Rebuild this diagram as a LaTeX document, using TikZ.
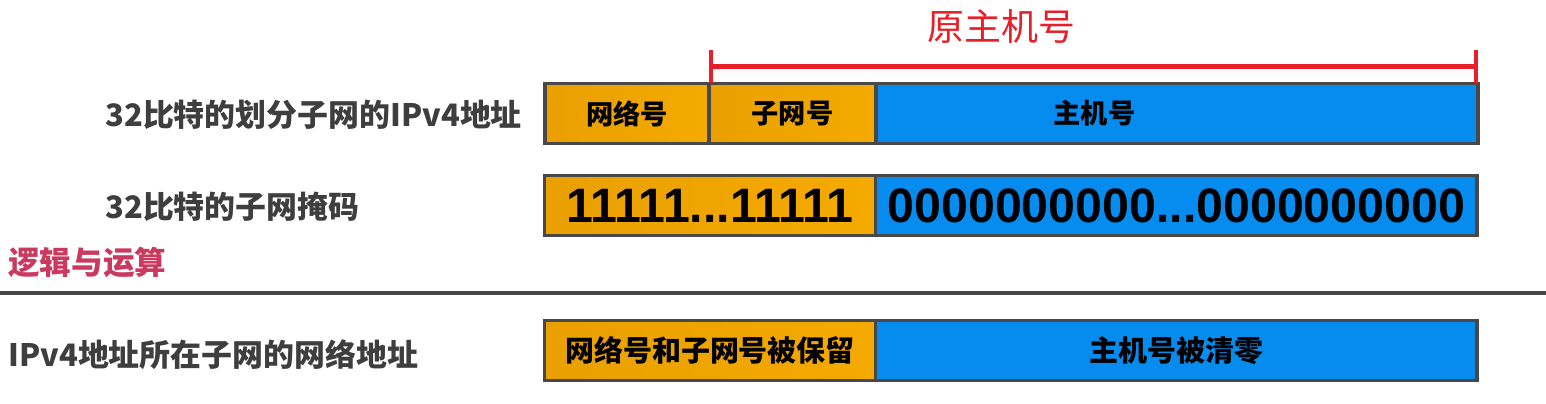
\documentclass[tikz,border=0pt]{standalone}
\usepackage{fontspec}
\setmainfont{Liberation Sans}
\newfontfamily\cjk{Noto Sans CJK SC}
\usetikzlibrary{positioning,arrows.meta}
\definecolor{netorangeL}{HTML}{E9A000}
\definecolor{netorangeR}{HTML}{F5AA00}
\definecolor{hostblue}{HTML}{058CEE}
\definecolor{framegray}{HTML}{484848}
\definecolor{labelgray}{HTML}{3E3E3E}
\definecolor{markred}{HTML}{E81E28}
\definecolor{oppink}{HTML}{CA3A5E}
\begin{document}
\begin{tikzpicture}[x=0.02cm, y=-0.02cm,
  cell/.style={draw=framegray, line width=2.2pt, outer sep=0pt, inner sep=0pt,
    minimum height=1.2cm, font=\cjk\bfseries\fontsize{15.5}{18}\selectfont},
  netcell/.style={cell, left color=netorangeL, right color=netorangeR},
  hostcell/.style={cell, fill=hostblue},
  bits/.style={font=\bfseries\fontsize{27.5}{30}\selectfont},
  rowlabel/.style={anchor=west, inner sep=0pt, text=labelgray,
    font=\cjk\bfseries\fontsize{17.6}{22}\selectfont}
]
\useasboundingbox (0,0) rectangle (1546,404);
% row 1: address split into network, subnet and host parts
\node[netcell, minimum width=3.28cm] (net) at (627,113.5) {网络号};
\node[netcell, minimum width=3.34cm, right=0pt of net] (sub) {子网号};
\node[hostcell, minimum width=12.04cm, right=0pt of sub] (host) {主机号\hspace{3.3cm}\null};
\node[rowlabel] (addrlbl) at (105,115) {32比特的划分子网的IPv4地址};
% the original host part
\draw[markred, line width=2.3pt, {Bar[width=0.66cm]}-{Bar[width=0.66cm]}]
  ([yshift=0.34cm]net.north east) -- ([yshift=0.34cm]host.north east)
  node[pos=0.38, above=0.42cm, inner sep=0pt, font=\cjk\fontsize{21}{24}\selectfont] (oldhost) {原主机号};
% row 2: subnet mask
\node[netcell, minimum width=6.62cm, bits] (ones) at (710,205.5) {11111...11111};
\node[hostcell, minimum width=12.04cm, bits, right=0pt of ones] (zeros) {0000000000...0000000000};
\node[rowlabel] (masklbl) at (105,207) {32比特的子网掩码};
\node[anchor=west, inner sep=0pt, text=oppink, font=\cjk\bfseries\fontsize{18}{22}\selectfont]
  (andop) at (8,263) {逻辑与运算};
% separator
\coordinate (sepL) at (0,293);
\coordinate (sepR) at (1546,293);
\draw[framegray, line width=2.3pt] (sepL) -- (sepR);
% row 3: resulting network address
\node[netcell, minimum width=6.62cm, font=\cjk\bfseries\fontsize{16.5}{20}\selectfont] (kept) at (710,350.5) {网络号和子网号被保留};
\node[hostcell, minimum width=12.04cm, font=\cjk\bfseries\fontsize{16.5}{20}\selectfont, right=0pt of kept] (cleared) {主机号被清零};
\node[rowlabel] (netlbl) at (8,355) {IPv4地址所在子网的网络地址};
\end{tikzpicture}
\end{document}
